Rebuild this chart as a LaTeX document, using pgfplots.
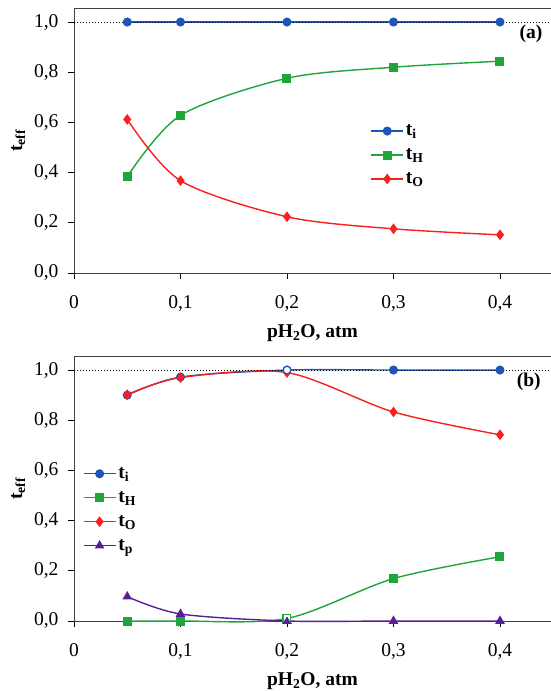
\documentclass[border=0pt]{standalone}
\usepackage{fontspec}
\setmainfont{Liberation Serif}
\usepackage{pgfplots}
\pgfplotsset{compat=1.18}
\definecolor{cblue}{RGB}{30,86,184}
\definecolor{cgreen}{RGB}{32,165,58}
\definecolor{cred}{RGB}{250,30,30}
\definecolor{cpurple}{RGB}{88,30,150}
\newcommand\fs{\fontsize{19.5}{22}\selectfont}
\pgfplotsset{
  myaxis/.style={
    scale only axis,
    width=477pt, height=265pt,
    xmin=0, xmax=0.4479, ymin=0, ymax=1.056,
    xtick={0,0.1,0.2,0.3,0.4},
    ytick={0,0.2,0.4,0.6,0.8,1.0},
    xtick pos=bottom, ytick pos=left,
    tick align=outside,
    major tick length=6pt,
    every tick/.style={black, line width=0.8pt},
    axis line style={black!75, line width=0.9pt},
    /pgf/number format/assume math mode=true,
    /pgf/number format/use comma,
    yticklabel style={font=\fs, /pgf/number format/fixed, /pgf/number format/fixed zerofill, /pgf/number format/precision=1, xshift=-6pt},
    xticklabel style={font=\fs, /pgf/number format/fixed, /pgf/number format/precision=1, yshift=-13pt},
    xlabel={\bfseries pH\textsubscript{2}O, atm},
    ylabel={\bfseries t\textsubscript{eff}},
    every axis x label/.style={at={(axis description cs:0.5,-0.225)}, anchor=center, font=\fs},
    every axis y label/.style={at={(axis description cs:-0.117,0.5)}, anchor=center, rotate=90, font=\fs},
    legend cell align=left,
    legend image code/.code={\draw[mark repeat=2,mark phase=2,#1] plot coordinates {(0pt,0pt) (16pt,0pt) (32pt,0pt)};},
    legend style={draw=none, fill=none, font=\fs\bfseries, row sep=7.5pt},
    clip=false,
  },
  pblue/.style={cblue, line width=1.4pt, mark=*, mark size=3.8pt, mark options={solid, fill=cblue}},
  pgreen/.style={cgreen, line width=1.4pt, mark=square*, mark size=3.8pt, mark options={solid, fill=cgreen}},
  pred/.style={cred, line width=1.4pt, mark=diamond*, mark size=4.2pt, mark options={solid, fill=cred}},
  ppurple/.style={cpurple, line width=1.4pt, mark=triangle*, mark size=4.2pt, mark options={solid, fill=cpurple}},
}
\begin{document}
\begin{tikzpicture}[x=1pt,y=1pt]
\useasboundingbox (0,0) rectangle (550,691);
% Panel (a)
\begin{axis}[myaxis, at={(74pt,418pt)}, anchor=south west,
  legend style={at={(axis description cs:0.615,0.575)}, anchor=north west}]
\addplot[pblue] coordinates {(0.05,1.0) (0.1,1.0) (0.2,1.0) (0.3,1.0) (0.4,1.0)};
\addlegendentry{t\textsubscript{i}}
\addplot[pgreen, smooth] coordinates {(0.05,0.384) (0.1,0.628) (0.2,0.776) (0.3,0.820) (0.4,0.844)};
\addlegendentry{t\textsubscript{H}}
\addplot[pred, smooth] coordinates {(0.05,0.612) (0.1,0.368) (0.2,0.224) (0.3,0.176) (0.4,0.152)};
\addlegendentry{t\textsubscript{O}}
\addplot[black, dotted, line width=1pt, forget plot] coordinates {(0,1) (0.4479,1)};
\node[font=\fs\bfseries] at (axis cs:0.4290,0.955) {(a)};
\end{axis}
% Panel (b)
\begin{axis}[myaxis, at={(74pt,70pt)}, anchor=south west,
  legend style={at={(axis description cs:0.012,0.595)}, anchor=north west}]
\addplot[pblue, smooth] coordinates {(0.05,0.900) (0.1,0.972) (0.2,1.0) (0.3,1.0) (0.4,1.0)};
\addlegendentry{t\textsubscript{i}}
\addplot[pgreen, smooth] coordinates {(0.05,0.0) (0.1,0.0) (0.2,0.01) (0.3,0.169) (0.4,0.256)};
\addlegendentry{t\textsubscript{H}}
\addplot[pred, smooth] coordinates {(0.05,0.902) (0.1,0.970) (0.2,0.990) (0.3,0.833) (0.4,0.742)};
\addlegendentry{t\textsubscript{O}}
\addplot[ppurple, smooth] coordinates {(0.05,0.097) (0.1,0.028) (0.2,0.0) (0.3,0.0) (0.4,0.0)};
\addlegendentry{t\textsubscript{p}}
\addplot[only marks, mark=*, mark size=3.8pt, mark options={draw=cblue, fill=white, line width=1.2pt}, forget plot] coordinates {(0.2,1.0)};
\addplot[only marks, mark=square*, mark size=3.8pt, mark options={draw=cgreen, fill=white, line width=1.2pt}, forget plot] coordinates {(0.2,0.01)};
\addplot[only marks, mark=triangle*, mark size=4.2pt, mark options={draw=cpurple, fill=cpurple}, forget plot] coordinates {(0.2,0.0)};
\addplot[black, dotted, line width=1pt, forget plot] coordinates {(0,1) (0.4479,1)};
\node[font=\fs\bfseries] at (axis cs:0.4270,0.955) {(b)};
\end{axis}
\end{tikzpicture}
\end{document}
